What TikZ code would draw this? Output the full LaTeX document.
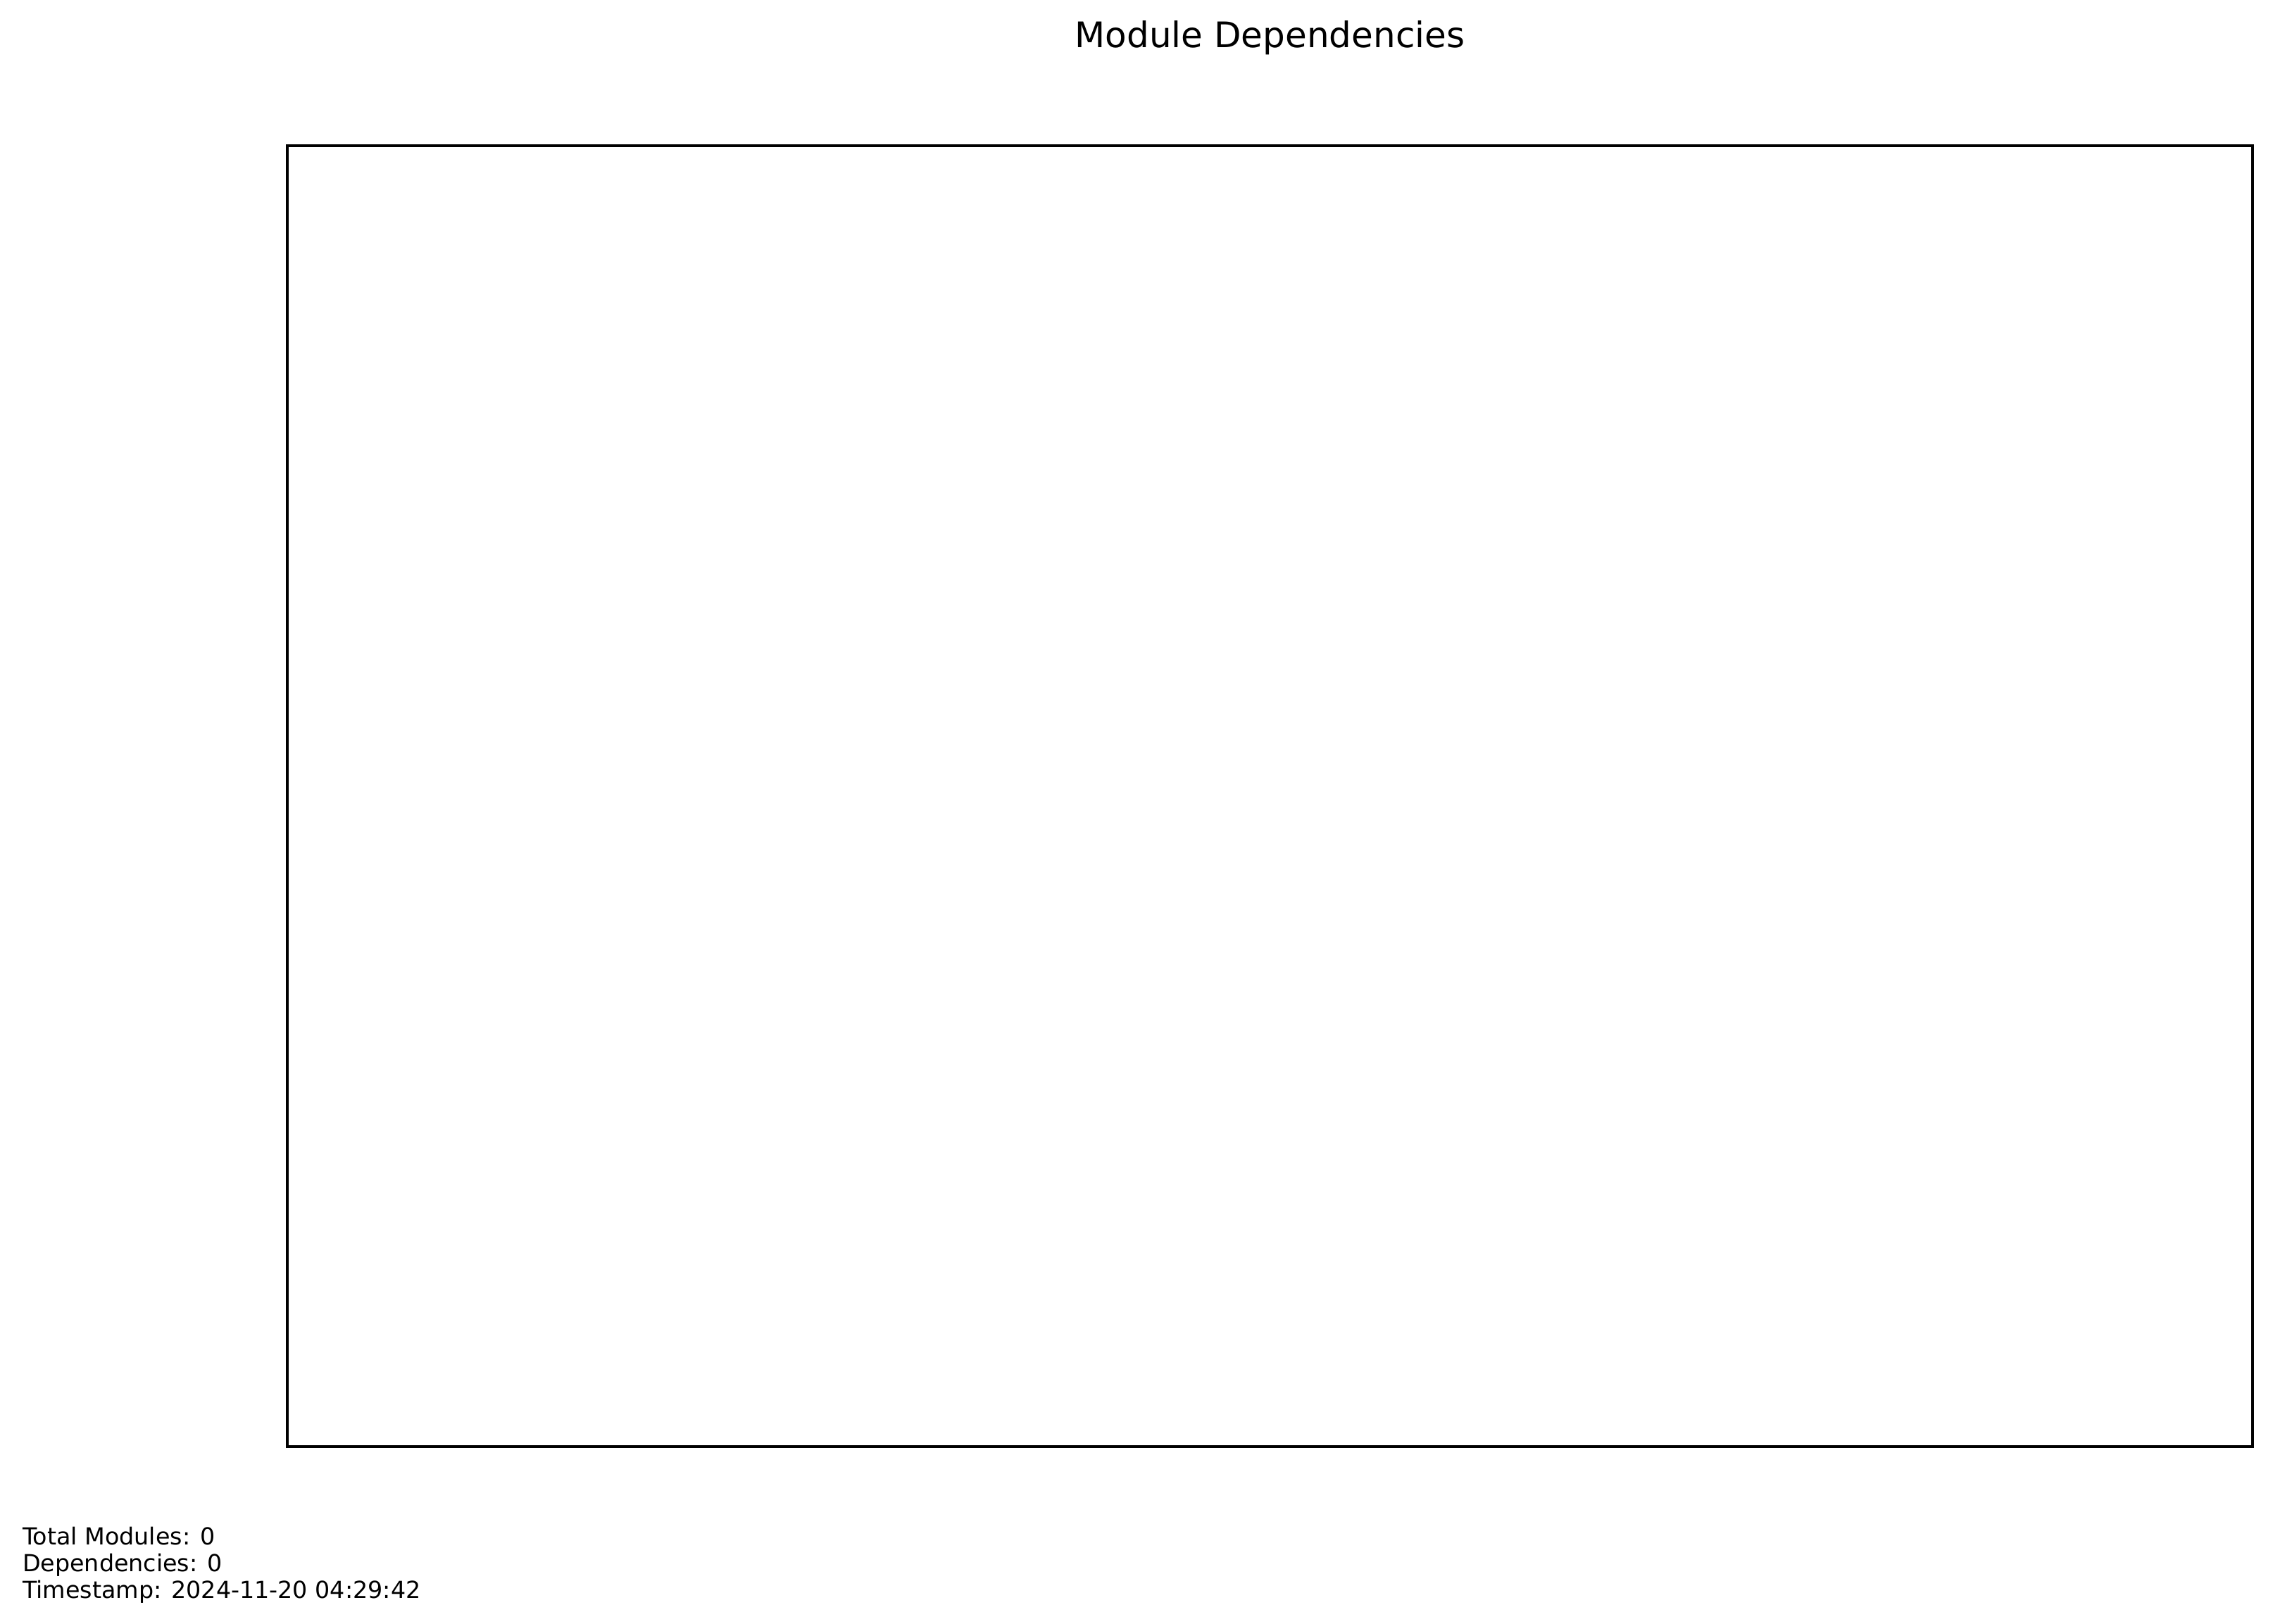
\documentclass[tikz,border=0pt]{standalone}
\usepackage{fontspec}
\setmainfont{DejaVu Sans}
\begin{document}
\begin{tikzpicture}
    \useasboundingbox (0,0) rectangle (774.72pt,553.68pt);
    \node[rectangle,draw,thick,inner sep=0pt,minimum width=669.84pt,minimum height=443.52pt] (axes) at (432.84pt,282.24pt) {};
    \node[anchor=base,font=\fontsize{12}{14}\selectfont] (title) at (432.84pt,537.4pt) {Module Dependencies};
    \node[anchor=base west,inner sep=0pt,font=\fontsize{8}{9}\selectfont] (total) at (7.5pt,26.88pt) {Total Modules: 0};
    \node[anchor=base west,inner sep=0pt,font=\fontsize{8}{9}\selectfont] (deps) at (7.5pt,17.8pt) {Dependencies: 0};
    \node[anchor=base west,inner sep=0pt,font=\fontsize{8}{9}\selectfont] (stamp) at (7.5pt,8.64pt) {Timestamp: 2024-11-20 04:29:42};
\end{tikzpicture}
\end{document}
